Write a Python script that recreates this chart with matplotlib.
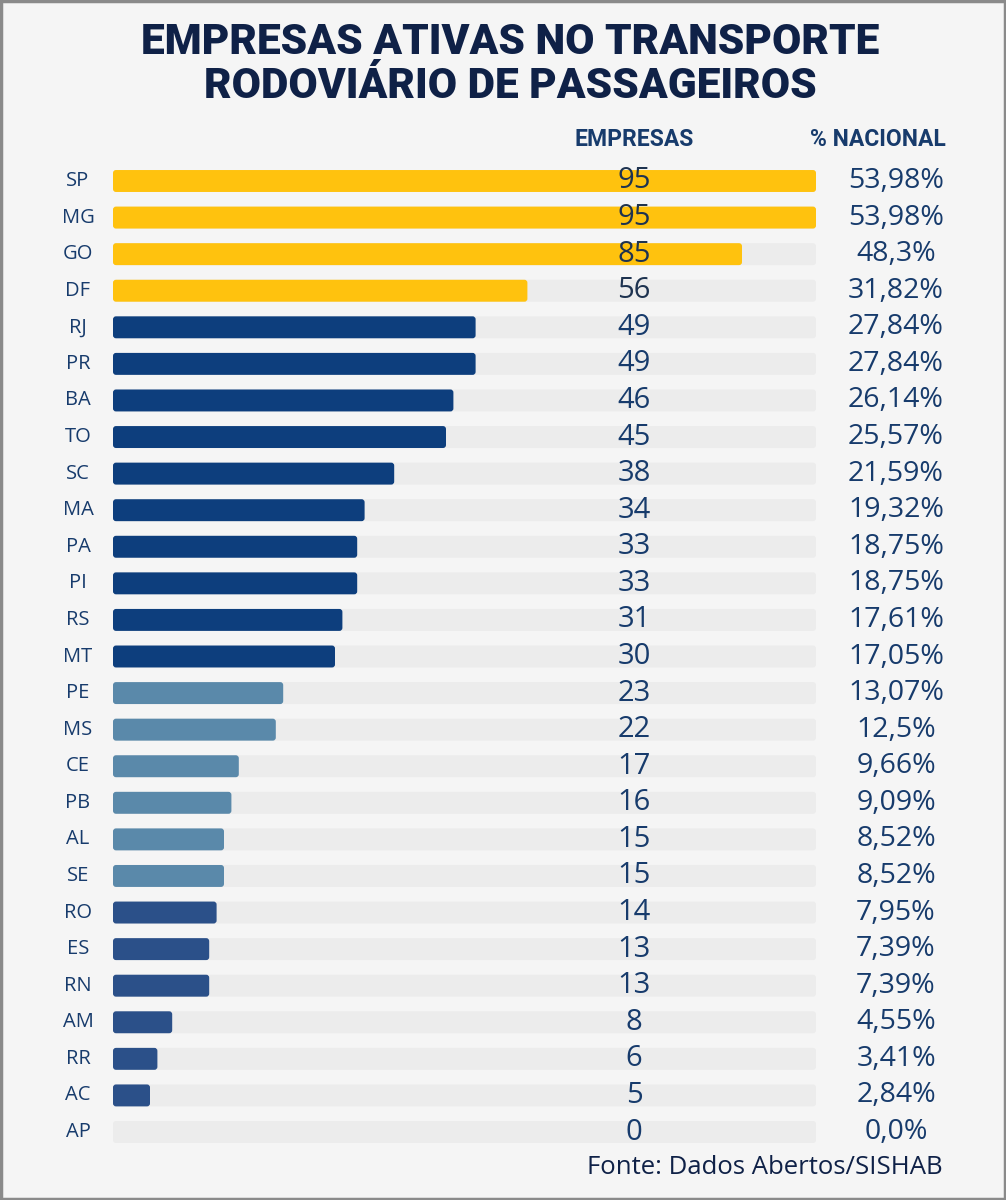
import matplotlib
matplotlib.use("Agg")
import matplotlib.pyplot as plt
from matplotlib.patches import FancyBboxPatch, Rectangle
import matplotlib.transforms as mtransforms

states = ["SP", "MG", "GO", "DF", "RJ", "PR", "BA", "TO", "SC", "MA", "PA", "PI", "RS", "MT",
          "PE", "MS", "CE", "PB", "AL", "SE", "RO", "ES", "RN", "AM", "RR", "AC", "AP"]
empresas = [95, 95, 85, 56, 49, 49, 46, 45, 38, 34, 33, 33, 31, 30,
            23, 22, 17, 16, 15, 15, 14, 13, 13, 8, 6, 5, 0]
pct_labels = ["53,98%", "53,98%", "48,3%", "31,82%", "27,84%", "27,84%", "26,14%", "25,57%",
              "21,59%", "19,32%", "18,75%", "18,75%", "17,61%", "17,05%", "13,07%", "12,5%",
              "9,66%", "9,09%", "8,52%", "8,52%", "7,95%", "7,39%", "7,39%", "4,55%", "3,41%",
              "2,84%", "0,0%"]
groups = ["top"] * 4 + ["dark"] * 10 + ["steel"] * 6 + ["mid"] * 7

palette = {"top": "#FFC20E", "dark": "#0D3E7D", "steel": "#5A89AA", "mid": "#2B5089"}
TXT = "#173B6C"
TITLE = "#0F2147"
BG = "#F5F5F5"
TRACK = "#ECECEC"

W, H = 1006, 1200
fig = plt.figure(figsize=(W / 100, H / 100), dpi=100, facecolor=BG)

# frame
fig.patches.append(Rectangle((0.001, 0.001), 0.998, 0.998, transform=fig.transFigure,
                             fill=False, edgecolor="#8A8A8A", linewidth=2.5))

n = len(states)
x0_px, x95_px = 113, 816
top_px, step = 181, (1132 - 181) / 26
ax_left = x0_px / W
ax_w = (x95_px - x0_px) / W
ax_top = 1 - (top_px - step / 2) / H
ax_bot = 1 - (top_px + step * (n - 1) + step / 2) / H
ax = fig.add_axes([ax_left, ax_bot, ax_w, ax_top - ax_bot])
ax.set_xlim(0, max(empresas))
ax.set_ylim(n - 0.5, -0.5)
ax.axis("off")
ax.set_facecolor("none")

xmax = max(empresas)
px_per_x = (x95_px - x0_px) / xmax
px_per_y = step
aspect = (1 / px_per_y) / (1 / px_per_x)
bh = 0.6
r = 3.0 / px_per_x

for i, (s, v, g) in enumerate(zip(states, empresas, groups)):
    track = FancyBboxPatch((0, i - bh / 2), xmax, bh,
                           boxstyle=f"round,pad=0,rounding_size={r}",
                           mutation_aspect=aspect, facecolor=TRACK, edgecolor="none", zorder=1)
    ax.add_patch(track)
    if v > 0:
        bar = FancyBboxPatch((0, i - bh / 2), v, bh,
                             boxstyle=f"round,pad=0,rounding_size={r}",
                             mutation_aspect=aspect, facecolor=palette[g], edgecolor="none", zorder=2)
        ax.add_patch(bar)

tr = mtransforms.blended_transform_factory(fig.transFigure, ax.transData)
for i, (s, v, p) in enumerate(zip(states, empresas, pct_labels)):
    ax.text(78 / W, i, s, transform=tr, ha="center", va="center", fontsize=14.5,
            color=TXT, family="Open Sans", weight="medium", zorder=5)
    ax.text(634 / W, i, str(v), transform=tr, ha="center", va="center", fontsize=21,
            color=TXT if groups[i] != "top" else "#1E3350", family="Open Sans", zorder=5)
    ax.text(896 / W, i, p, transform=tr, ha="center", va="center", fontsize=20.5,
            color=TXT, family="Open Sans", zorder=5)

fig.text(634 / W, 1 - 140 / H, "EMPRESAS", ha="center", va="center", fontsize=16.5,
         color=TXT, family="Roboto", weight="bold")
fig.text(878 / W, 1 - 140 / H, "% NACIONAL", ha="center", va="center", fontsize=16.5,
         color=TXT, family="Roboto", weight="bold")

fig.text(510 / W, 1 - 42 / H, "EMPRESAS ATIVAS NO TRANSPORTE", ha="center", va="center",
         fontsize=30.5, color=TITLE, family="Roboto", weight="black")
fig.text(510 / W, 1 - 87 / H, "RODOVIÁRIO DE PASSAGEIROS", ha="center", va="center",
         fontsize=30.5, color=TITLE, family="Roboto", weight="black")

fig.text(943 / W, 1 - 1168 / H, "Fonte: Dados Abertos/SISHAB", ha="right", va="center",
         fontsize=18.5, color=TITLE, family="Open Sans")

fig.savefig("out.png", dpi=100, facecolor=BG)
